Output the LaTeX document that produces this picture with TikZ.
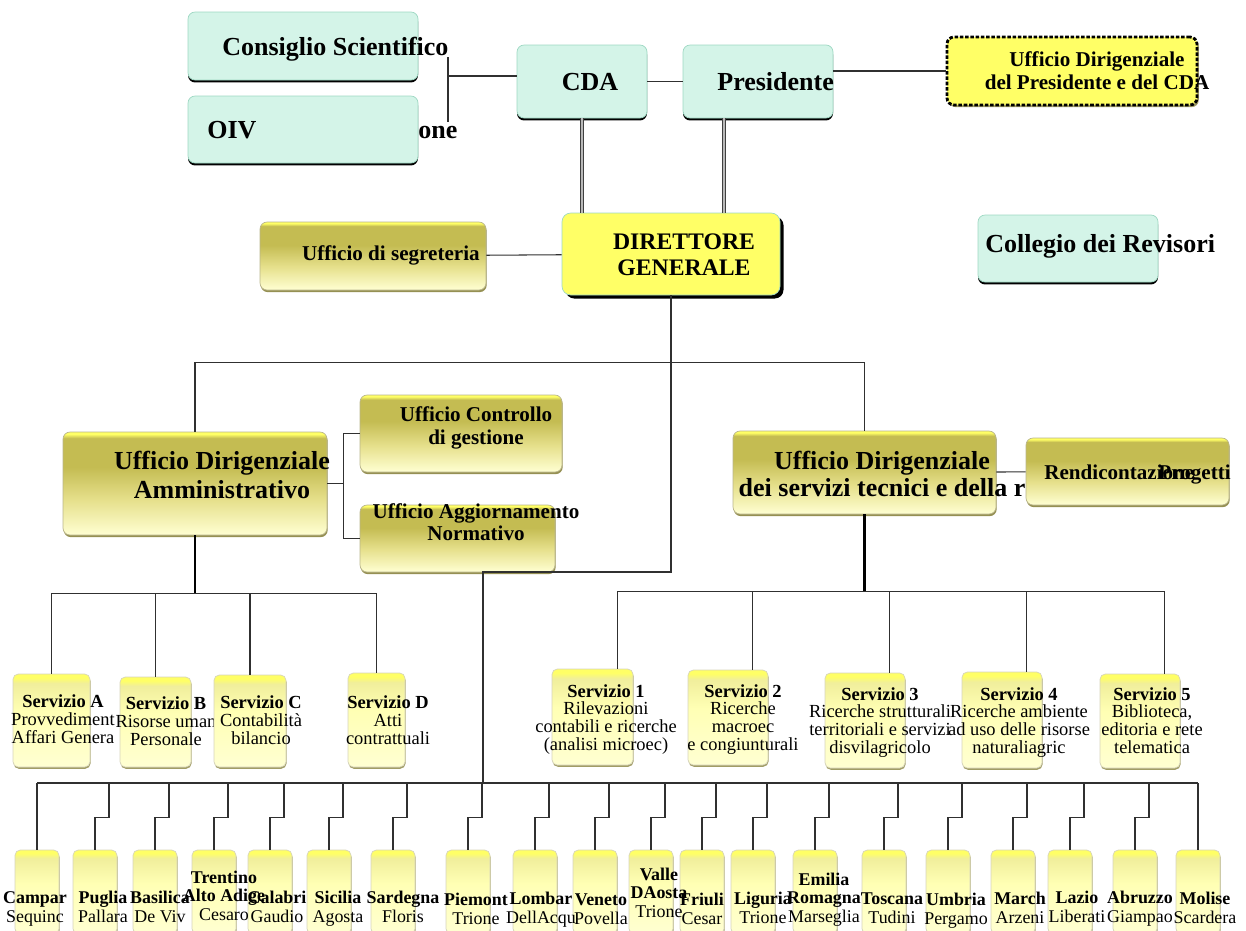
\documentclass[tikz,border=0pt]{standalone}
\usepackage{fontspec}
\setmainfont{Liberation Serif}
\usetikzlibrary{positioning,fit,calc,shadows}
\definecolor{mint}{HTML}{D4F4E8}
\definecolor{mintline}{HTML}{9ED8C3}
\definecolor{brightyel}{HTML}{FFFF66}
\definecolor{paleyel}{HTML}{FFFFD2}
\definecolor{lightolive}{HTML}{E6E08C}
\definecolor{olive}{HTML}{C4BC52}
\definecolor{creamyel}{HTML}{FFFFB4}
\definecolor{boxedge}{HTML}{8A8440}
\definecolor{wire}{HTML}{303030}
\pgfdeclareverticalshading{olivebar}{100bp}{color(0bp)=(paleyel); color(25bp)=(paleyel);
  color(42bp)=(lightolive); color(58bp)=(olive); color(72bp)=(olive); color(74bp)=(brightyel); color(100bp)=(brightyel)}
\pgfdeclareverticalshading{palebar}{100bp}{color(0bp)=(paleyel); color(25bp)=(paleyel);
  color(55bp)=(creamyel); color(70bp)=(creamyel!75!olive); color(73bp)=(brightyel); color(100bp)=(brightyel)}

\begin{document}
\begin{tikzpicture}[x=0.02cm,y=-0.02cm,
  box/.style={inner sep=0pt,rounded corners=4pt},
  tealbox/.style={box,fill=mint,draw=mintline,
                  drop shadow={shadow xshift=0pt,shadow yshift=-1.4pt,fill=black,opacity=1}},
  olivebox/.style={box,shade,shading=olivebar,draw=boxedge!60,
                   drop shadow={shadow xshift=0.4pt,shadow yshift=-1.2pt,fill=boxedge,opacity=0.9}},
  palebox/.style={box,rounded corners=3pt,shade,shading=palebar,draw=boxedge!35,
                  drop shadow={shadow xshift=0.3pt,shadow yshift=-1pt,fill=boxedge,opacity=0.8}},
  udpbox/.style={box,fill=brightyel,draw=black,line width=1.6pt,dash pattern=on 2pt off 1pt,
                 drop shadow={shadow xshift=1pt,shadow yshift=-1.2pt,fill=boxedge,opacity=0.8}},
  dgbox/.style={box,rounded corners=5pt,fill=brightyel,draw=mintline,
                drop shadow={shadow xshift=2pt,shadow yshift=-2pt,fill=black,opacity=1}},
  bigtxt/.style={inner sep=0pt,font=\fontsize{14.8}{16.5}\selectfont\bfseries},
  midtxt/.style={inner sep=0pt,font=\fontsize{12}{13}\selectfont\bfseries},
  dgtxt/.style={inner sep=0pt,align=center,font=\fontsize{13.5}{14.8}\selectfont\bfseries},
  srvtxt/.style={inner sep=0pt,align=center,font=\fontsize{10.5}{10}\selectfont},
  regtxt/.style={inner sep=0pt,align=center,font=\fontsize{10.2}{10.4}\selectfont},
  conn/.style={draw=wire,line width=0.6pt},
  thickconn/.style={draw=black,line width=1.4pt},
  dbl/.style={draw=black!75,line width=0.6pt,double=gray!55,double distance=1.2pt}
]
\useasboundingbox (0,0) rectangle (1246,930);

% vertice
\node[tealbox,fit={(188,12) (418,80)}] (cons) {};
\node[bigtxt,anchor=base west] (cons-t) at (222,55) {Consiglio Scientifico};
\node[tealbox,fit={(188,96) (418,163)}] (oiv) {};
\node[bigtxt,anchor=base west] (oiv-t) at (207,138) {OIV};
\node[bigtxt,anchor=base west] (oiv-x) at (418,138) {one};
\node[tealbox,fit={(517,45) (647,118)}] (cda) {};
\node[bigtxt,anchor=base] (cda-t) at (590,90) {CDA};
\node[tealbox,fit={(683,45) (833,118)}] (pres) {};
\node[bigtxt,anchor=base west] (pres-t) at (717,90) {Presidente};
\node[udpbox,fit={(947,37) (1197,105)}] (udp) {};
\node[midtxt,align=center,anchor=base] (udp-t) at (1097,89) {Ufficio Dirigenziale\\del Presidente e del CDA};

\coordinate (csjoin) at (448,76);
\coordinate (cstop) at (448,57);
\coordinate (csbot) at (448,122);
\draw[conn] (cstop) -- (csbot);
\draw[conn] (csjoin) -- (cda.west |- csjoin);
\draw[conn] (cda) -- (pres);
\draw[conn] (pres.east |- udp.west) -- (udp.west);

% direzione
\node[olivebox,fit={(260,222) (486,290)}] (seg) {};
\node[midtxt,anchor=base east] (seg-t) at (480,260) {Ufficio di segreteria};
\node[dgbox,fit={(562,213) (780,295)}] (dg) {};
\node[dgtxt,anchor=base] (dg-t) at (684,275) {DIRETTORE\\GENERALE};
\node[tealbox,fit={(978,215) (1158,282)}] (coll) {};
\node[bigtxt,anchor=base west] (coll-t) at (985,252) {Collegio dei Revisori};

\draw[dbl] (cda.south) -- (cda.south |- dg.north);
\draw[dbl] ($(pres.south)+(-34,0)$) -- ($(pres.south |- dg.north)+(-34,0)$);
\draw[conn] (seg) -- (dg);

% uffici dirigenziali
\node[olivebox,fit={(63,432) (327,535)}] (uda) {};
\node[bigtxt,align=center,anchor=base,font=\fontsize{14.8}{16.5}\selectfont\bfseries] (uda-t) at (222,498) {Ufficio Dirigenziale\\Amministrativo};
\node[olivebox,fit={(360,395) (562,472)}] (ctrl) {};
\node[midtxt,align=center,anchor=base] (ctrl-t) at (476,444) {Ufficio Controllo\\di gestione};
\node[olivebox,fit={(360,505) (555,572)}] (agg) {};
\node[midtxt,align=center,anchor=base,font=\fontsize{12}{12.5}\selectfont\bfseries] (agg-t) at (476,540) {Ufficio Aggiornamento\\Normativo};
\node[olivebox,fit={(733,431) (996,514)}] (udst) {};
\node[bigtxt,align=center,anchor=base,font=\fontsize{14.8}{15}\selectfont\bfseries] (udst-t) at (882,496) {Ufficio Dirigenziale\\dei servizi tecnici e della r};
\node[olivebox,fit={(1026,438) (1229,505)}] (rend) {};
\node[midtxt,anchor=base west] (rend-t) at (1044,479) {Rendicontazione};
\node[midtxt,anchor=base east] (rend-x) at (1231,479) {Progetti};

\coordinate (hub) at ($(dg.south)+(0,67)$);
\draw[conn] (dg.south) -- (hub) -| (uda.north);
\draw[conn] (hub) -| (udst.north);
\coordinate (ajoin) at ($(uda.east)+(16,0)$);
\draw[conn] (uda.east) -- (ajoin);
\draw[conn] (ctrl.west) -| (ajoin) |- (agg.west);
\draw[conn] (udst) -- (rend);

% servizi
\node[palebox,fit={(13,674) (90,767)}] (sa) {};
\node[srvtxt,anchor=base] (sa-t) at (63,743) {\textbf{Servizio A}\\Provvediment\\Affari Genera};
\node[palebox,fit={(120,677) (191,767)}] (sb) {};
\node[srvtxt,anchor=base] (sb-t) at (166,745) {\textbf{Servizio B}\\Risorse uman\\Personale};
\node[palebox,fit={(214,675) (286,767)}] (sc) {};
\node[srvtxt,anchor=base] (sc-t) at (261,744) {\textbf{Servizio C}\\Contabilità\\bilancio};
\node[palebox,fit={(348,673) (405,767)}] (sd) {};
\node[srvtxt,anchor=base] (sd-t) at (388,744) {\textbf{Servizio D}\\Atti\\contrattuali};

\node[palebox,fit={(552,669) (633,765)}] (s1) {};
\node[srvtxt,anchor=base] (s1-t) at (606,750) {\textbf{Servizio 1}\\Rilevazioni\\contabili e ricerche\\(analisi microec)};
\node[palebox,fit={(688,670) (768,765)}] (s2) {};
\node[srvtxt,anchor=base] (s2-t) at (743,750) {\textbf{Servizio 2}\\Ricerche\\macroec\\e congiunturali};
\node[palebox,fit={(825,673) (905,768)}] (s3) {};
\node[srvtxt,anchor=base] (s3-t) at (880,753) {\textbf{Servizio 3}\\Ricerche strutturali\\territoriali e servizi\\disvilagricolo};
\node[palebox,fit={(962,672) (1042,768)}] (s4) {};
\node[srvtxt,anchor=base] (s4-t) at (1019,753) {\textbf{Servizio 4}\\Ricerche ambiente\\ad uso delle risorse\\naturaliagric};
\node[palebox,fit={(1100,674) (1180,768)}] (s5) {};
\node[srvtxt,anchor=base] (s5-t) at (1152,753) {\textbf{Servizio 5}\\Biblioteca,\\editoria e rete\\telematica};

\coordinate (lsbus) at ($(uda.south)+(0,58)$);
\draw[thickconn] (uda.south) -- (lsbus);
\draw[conn] (sa.north |- lsbus) -- (sd.north |- lsbus);
\foreach \s in {sa,sb,sc,sd}
  \draw[conn] (\s.north |- lsbus) -- (\s.north);

\coordinate (rsbus) at ($(udst.south)+(0,77)$);
\draw[thickconn] (udst.south) -- (rsbus);
\foreach \s in {s1,s2,s3,s4,s5}
  \path ($(\s.north east)+(-16,0)$) coordinate (\s-in);
\draw[conn] (s1-in |- rsbus) -- (s5-in |- rsbus);
\foreach \s in {s1,s2,s3,s4,s5}
  \draw[conn] (\s-in |- rsbus) -- (\s-in);

% regioni: prima i riquadri, poi i nomi sopra
\foreach \n/\cx in {r1/37,r2/95,r3/155,r4/214,r5/270,r6/329,r7/393,r8/468,r9/535,r10/595,
                    r11/651,r12/702,r13/753,r14/815,r15/884,r16/948,r17/1013,r18/1070,r19/1135,r20/1198}
  \node[palebox,fit={(\cx-22,850) (\cx+22,934)}] (\n) {};
\foreach \n/\tx/\by/\txt in {
  r1/35/922/{\textbf{Campar}\\Sequinc},
  r2/103/922/{\textbf{Puglia}\\Pallara},
  r3/160/922/{\textbf{Basilica}\\De Viv},
  r4/224/920/{\textbf{Trentino}\\\textbf{Alto Adige}\\Cesaro},
  r5/277/922/{\textbf{Calabri}\\Gaudio},
  r6/338/922/{\textbf{Sicilia}\\Agosta},
  r7/403/922/{\textbf{Sardegna}\\Floris},
  r8/476/924/{\textbf{Piemont}\\Trione},
  r9/541/923/{\textbf{Lombar}\\DellAcqu},
  r10/601/924/{\textbf{Veneto}\\Povella},
  r11/659/917/{\textbf{Valle}\\\textbf{DAosta}\\Trione},
  r12/702/924/{\textbf{Friuli}\\Cesar},
  r13/763/923/{\textbf{Liguria}\\Trione},
  r14/824/922/{\textbf{Emilia}\\\textbf{Romagna}\\Marseglia},
  r15/892/923/{\textbf{Toscana}\\Tudini},
  r16/956/924/{\textbf{Umbria}\\Pergamo},
  r17/1020/923/{\textbf{March}\\Arzeni},
  r18/1077/922/{\textbf{Lazio}\\Liberati},
  r19/1140/922/{\textbf{Abruzzo}\\Giampao},
  r20/1205/923/{\textbf{Molise}\\Scardera}}
  \node[regtxt,anchor=base] (\n-t) at (\tx,\by) {\txt};

\coordinate (kink) at (483,572);
\coordinate (rbus) at (483,783);
\draw[conn] (hub) |- (kink) -- (rbus);
\draw[conn] (r1.north |- rbus) -- (r20.north |- rbus);
\draw[conn] (r1.north |- rbus) -- (r1.north);
\draw[conn] (r20.north |- rbus) -- (r20.north);
\foreach \n in {r2,r3,r4,r5,r6,r7,r8,r9,r10,r11,r12,r13,r14,r15,r16,r17,r18,r19}
  \draw[conn] (\n.north) -- ++(0,-32) -- ++(14,0) -- ++(0,-35);
\end{tikzpicture}
\end{document}
